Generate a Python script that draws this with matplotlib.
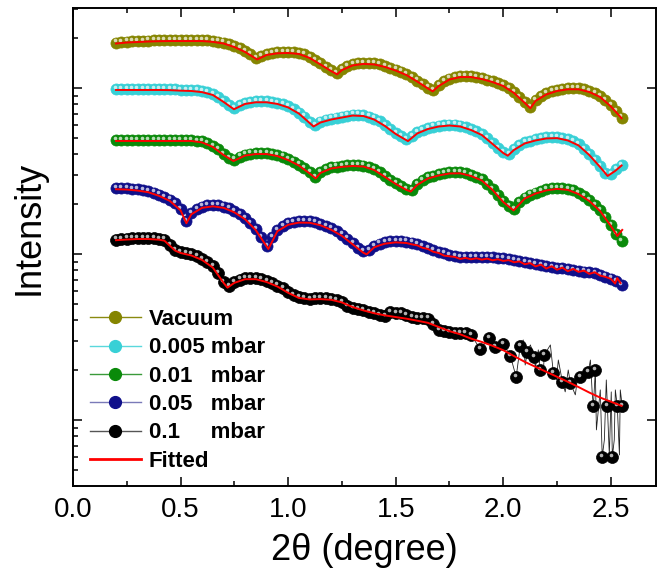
import numpy as np
import matplotlib
matplotlib.use("Agg")
import matplotlib.pyplot as plt
import matplotlib.transforms as mtransforms
from matplotlib.lines import Line2D
from matplotlib.ticker import LogLocator, NullFormatter, MultipleLocator

plt.rcParams['font.family'] = ['Liberation Sans', 'DejaVu Sans']

# scan angles (2theta, degree), 0.025 step
two_theta = np.round(np.arange(0.200, 2.5501, 0.025), 3)

# measured curves, log10(intensity) with vertical offsets between samples
log_vacuum = [
    2.274, 2.277, 2.280, 2.282, 2.283, 2.285, 2.286, 2.287, 2.288, 2.288,
    2.289, 2.289, 2.289, 2.289, 2.289, 2.289, 2.289, 2.287, 2.284, 2.280,
    2.274, 2.265, 2.253, 2.241, 2.223, 2.202, 2.181, 2.193, 2.205, 2.211,
    2.215, 2.217, 2.217, 2.215, 2.211, 2.202, 2.187, 2.169, 2.148, 2.127,
    2.108, 2.090, 2.114, 2.133, 2.142, 2.148, 2.151, 2.151, 2.148, 2.142,
    2.133, 2.123, 2.111, 2.099, 2.084, 2.066, 2.045, 2.024, 2.003, 1.988,
    2.018, 2.042, 2.057, 2.066, 2.072, 2.073, 2.072, 2.066, 2.060, 2.051,
    2.042, 2.030, 2.018, 2.000, 1.976, 1.946, 1.916, 1.886, 1.928, 1.952,
    1.967, 1.979, 1.988, 1.994, 1.998, 2.000, 1.998, 1.991, 1.982, 1.970,
    1.952, 1.928, 1.895, 1.861, 1.822]

log_0005 = [
    1.994, 1.994, 1.994, 1.994, 1.994, 1.994, 1.994, 1.994, 1.994, 1.994,
    1.993, 1.992, 1.990, 1.989, 1.988, 1.985, 1.981, 1.974, 1.964, 1.946,
    1.922, 1.898, 1.880, 1.898, 1.910, 1.916, 1.920, 1.922, 1.920, 1.916,
    1.910, 1.901, 1.889, 1.873, 1.852, 1.828, 1.795, 1.777, 1.798, 1.810,
    1.816, 1.822, 1.828, 1.834, 1.840, 1.840, 1.837, 1.828, 1.816, 1.801,
    1.777, 1.753, 1.729, 1.711, 1.690, 1.711, 1.732, 1.747, 1.759, 1.768,
    1.774, 1.777, 1.780, 1.780, 1.774, 1.765, 1.753, 1.738, 1.723, 1.699,
    1.669, 1.639, 1.614, 1.602, 1.633, 1.657, 1.672, 1.681, 1.690, 1.696,
    1.702, 1.705, 1.704, 1.699, 1.690, 1.678, 1.660, 1.633, 1.602, 1.566,
    1.530, 1.488, 1.482, 1.509, 1.536]

log_001 = [
    1.684, 1.687, 1.687, 1.687, 1.687, 1.687, 1.687, 1.687, 1.687, 1.687,
    1.687, 1.687, 1.687, 1.687, 1.687, 1.683, 1.678, 1.669, 1.651, 1.630,
    1.602, 1.578, 1.569, 1.587, 1.599, 1.605, 1.608, 1.610, 1.608, 1.604,
    1.596, 1.587, 1.572, 1.557, 1.539, 1.518, 1.491, 1.464, 1.494, 1.512,
    1.521, 1.527, 1.531, 1.534, 1.536, 1.536, 1.533, 1.524, 1.512, 1.494,
    1.470, 1.446, 1.428, 1.410, 1.392, 1.386, 1.422, 1.446, 1.461, 1.470,
    1.479, 1.485, 1.491, 1.494, 1.492, 1.485, 1.476, 1.464, 1.449, 1.422,
    1.392, 1.355, 1.319, 1.289, 1.271, 1.313, 1.340, 1.358, 1.370, 1.380,
    1.389, 1.395, 1.398, 1.398, 1.392, 1.383, 1.367, 1.349, 1.325, 1.295,
    1.265, 1.223, 1.175, 1.120, 1.078]

log_005 = [
    1.398, 1.398, 1.396, 1.393, 1.390, 1.386, 1.380, 1.370, 1.358, 1.343,
    1.328, 1.307, 1.271, 1.199, 1.247, 1.271, 1.286, 1.293, 1.295, 1.293,
    1.286, 1.274, 1.259, 1.241, 1.217, 1.187, 1.151, 1.102, 1.048, 1.102,
    1.145, 1.169, 1.184, 1.193, 1.197, 1.199, 1.196, 1.190, 1.181, 1.169,
    1.154, 1.136, 1.117, 1.093, 1.066, 1.036, 1.015, 1.024, 1.048, 1.063,
    1.072, 1.077, 1.078, 1.078, 1.075, 1.069, 1.060, 1.048, 1.036, 1.024,
    1.012, 1.003, 0.994, 0.988, 0.984, 0.982, 0.982, 0.982, 0.982, 0.982,
    0.980, 0.978, 0.974, 0.970, 0.964, 0.957, 0.949, 0.943, 0.937, 0.931,
    0.926, 0.922, 0.917, 0.913, 0.908, 0.904, 0.899, 0.894, 0.889, 0.883,
    0.873, 0.864, 0.852, 0.837, 0.813]

# 0.1 mbar: regular part of the scan (0.200 - 1.850)
log_01 = [
    1.087, 1.090, 1.093, 1.095, 1.096, 1.096, 1.096, 1.095, 1.092, 1.087,
    1.054, 1.024, 1.012, 1.006, 0.997, 0.985, 0.970, 0.952, 0.925, 0.886,
    0.831, 0.807, 0.831, 0.846, 0.854, 0.855, 0.854, 0.848, 0.837, 0.825,
    0.810, 0.792, 0.771, 0.750, 0.738, 0.732, 0.729, 0.732, 0.735, 0.733,
    0.729, 0.723, 0.711, 0.687, 0.675, 0.666, 0.660, 0.651, 0.642, 0.630,
    0.627, 0.648, 0.645, 0.642, 0.630, 0.620, 0.614, 0.614, 0.611, 0.578,
    0.542, 0.533, 0.527, 0.524, 0.524, 0.521, 0.512]

# 0.1 mbar: noisy high-angle points (marked)
tail_01_x = [1.893, 1.935, 1.963, 2.000, 2.033, 2.060, 2.079, 2.112, 2.144, 2.172,
             2.191, 2.233, 2.275, 2.312, 2.358, 2.395, 2.419, 2.428, 2.460, 2.484,
             2.507, 2.530, 2.553]
tail_01_log = [0.428, 0.494, 0.440, 0.458, 0.386, 0.259, 0.446, 0.410, 0.380, 0.301,
               0.392, 0.283, 0.229, 0.223, 0.259, 0.289, 0.084, 0.301, -0.223, 0.084,
               -0.223, 0.084, 0.084]

# 0.1 mbar: raw trace points between the marked ones
raw_01_x = [2.093, 2.102, 2.126, 2.149, 2.163, 2.186, 2.219, 2.247, 2.256, 2.288,
            2.302, 2.335, 2.349, 2.372, 2.405, 2.414, 2.433, 2.451, 2.470, 2.479,
            2.493, 2.502, 2.516, 2.521, 2.540, 2.544]
raw_01_log = [0.482, 0.331, 0.452, 0.313, 0.422, 0.289, 0.452, 0.241, 0.361, 0.169,
              0.301, 0.151, 0.289, 0.241, 0.361, 0.151, -0.060, 0.181, -0.120, 0.241,
              -0.211, 0.169, -0.120, 0.181, -0.211, 0.181]

# fitted curves
fit_vac_x = [0.20, 0.25, 0.30, 0.35, 0.40, 0.45, 0.50, 0.55, 0.60, 0.65,
             0.70, 0.75, 0.80, 0.856, 0.90, 0.95, 1.00, 1.05, 1.10, 1.15,
             1.20, 1.228, 1.25, 1.30, 1.35, 1.40, 1.45, 1.50, 1.55, 1.60,
             1.65, 1.672, 1.70, 1.75, 1.80, 1.85, 1.90, 1.95, 2.00, 2.05,
             2.10, 2.126, 2.15, 2.20, 2.25, 2.30, 2.35, 2.40, 2.45, 2.50, 2.55]
fit_vac = [2.268, 2.274, 2.277, 2.280, 2.282, 2.283, 2.283, 2.283, 2.283, 2.278,
           2.268, 2.247, 2.217, 2.172, 2.199, 2.209, 2.211, 2.205, 2.181, 2.142,
           2.102, 2.082, 2.108, 2.136, 2.145, 2.142, 2.127, 2.105, 2.078, 2.039,
           1.997, 1.980, 2.012, 2.051, 2.066, 2.066, 2.054, 2.036, 2.012, 1.970,
           1.910, 1.878, 1.922, 1.961, 1.982, 1.992, 1.992, 1.976, 1.946, 1.889, 1.818]

fit_0005_x = [0.20, 0.25, 0.30, 0.35, 0.40, 0.45, 0.50, 0.55, 0.60, 0.65,
              0.70, 0.748, 0.80, 0.85, 0.90, 0.95, 1.00, 1.05, 1.10, 1.118,
              1.15, 1.20, 1.25, 1.30, 1.35, 1.40, 1.45, 1.50, 1.557, 1.60,
              1.65, 1.70, 1.75, 1.80, 1.85, 1.90, 1.95, 2.00, 2.021, 2.05,
              2.10, 2.15, 2.20, 2.25, 2.30, 2.35, 2.40, 2.45, 2.485, 2.52, 2.55]
fit_0005 = [1.988, 1.988, 1.988, 1.988, 1.988, 1.987, 1.984, 1.982, 1.975, 1.958,
            1.916, 1.872, 1.904, 1.914, 1.914, 1.904, 1.883, 1.846, 1.789, 1.768,
            1.792, 1.810, 1.822, 1.834, 1.831, 1.810, 1.771, 1.723, 1.680, 1.726,
            1.753, 1.768, 1.774, 1.768, 1.747, 1.717, 1.663, 1.608, 1.592, 1.627,
            1.666, 1.684, 1.696, 1.698, 1.684, 1.654, 1.596, 1.524, 1.470, 1.500, 1.533]

fit_001_x = [0.20, 0.25, 0.30, 0.35, 0.40, 0.45, 0.50, 0.55, 0.60, 0.65,
             0.70, 0.746, 0.80, 0.85, 0.90, 0.95, 1.00, 1.05, 1.10, 1.128,
             1.15, 1.20, 1.25, 1.30, 1.35, 1.40, 1.45, 1.50, 1.55, 1.57,
             1.60, 1.65, 1.70, 1.75, 1.80, 1.85, 1.90, 1.95, 2.00, 2.048,
             2.10, 2.15, 2.20, 2.25, 2.30, 2.35, 2.40, 2.45, 2.50, 2.53, 2.553]
fit_001 = [1.681, 1.681, 1.681, 1.681, 1.681, 1.681, 1.681, 1.681, 1.672, 1.645,
           1.596, 1.560, 1.593, 1.602, 1.602, 1.590, 1.566, 1.533, 1.485, 1.455,
           1.488, 1.515, 1.525, 1.530, 1.527, 1.506, 1.464, 1.422, 1.386, 1.376,
           1.416, 1.455, 1.473, 1.485, 1.486, 1.470, 1.443, 1.386, 1.313, 1.262,
           1.334, 1.364, 1.383, 1.392, 1.386, 1.361, 1.319, 1.259, 1.169, 1.108, 1.145]

fit_005_x = [0.20, 0.25, 0.30, 0.35, 0.40, 0.45, 0.50, 0.527, 0.55, 0.60,
             0.65, 0.70, 0.75, 0.80, 0.85, 0.908, 0.95, 1.00, 1.05, 1.10,
             1.15, 1.20, 1.25, 1.30, 1.35, 1.365, 1.40, 1.425, 1.45, 1.475,
             1.50, 1.525, 1.55, 1.575, 1.60, 1.625, 1.65, 1.675, 1.70, 1.725,
             1.75, 1.775, 1.80, 1.825, 1.85, 1.875, 1.90, 1.925, 1.95, 1.975,
             2.00, 2.025, 2.05, 2.075, 2.10, 2.125, 2.15, 2.175, 2.20, 2.225,
             2.25, 2.275, 2.30, 2.325, 2.35, 2.375, 2.40, 2.425, 2.45, 2.475,
             2.50, 2.52, 2.53, 2.545]
fit_005 = [1.390, 1.388, 1.382, 1.372, 1.350, 1.320, 1.263, 1.185, 1.239, 1.278,
           1.287, 1.278, 1.251, 1.209, 1.143, 1.030, 1.137, 1.176, 1.189, 1.188,
           1.173, 1.146, 1.109, 1.058, 1.007, 0.998, 1.040, 1.052, 1.062, 1.066,
           1.070, 1.068, 1.066, 1.058, 1.052, 1.037, 1.030, 1.013, 1.006, 0.990,
           0.986, 0.982, 0.970, 0.976, 0.968, 0.974, 0.966, 0.972, 0.962, 0.968,
           0.958, 0.963, 0.950, 0.955, 0.938, 0.945, 0.925, 0.936, 0.912, 0.926,
           0.905, 0.918, 0.896, 0.910, 0.892, 0.900, 0.880, 0.890, 0.870, 0.862,
           0.850, 0.822, 0.855, 0.825]

fit_01_x = [0.20, 0.25, 0.30, 0.35, 0.40, 0.425, 0.45, 0.475, 0.50, 0.55,
            0.60, 0.65, 0.70, 0.718, 0.75, 0.80, 0.85, 0.90, 0.95, 1.00,
            1.05, 1.10, 1.15, 1.20, 1.25, 1.30, 1.35, 1.40, 1.45, 1.50,
            1.55, 1.60, 1.65, 1.70, 1.75, 1.80, 1.85, 1.90, 1.95, 2.00,
            2.05, 2.10, 2.15, 2.20, 2.25, 2.30, 2.35, 2.40, 2.45, 2.50, 2.55]
fit_01 = [1.083, 1.087, 1.090, 1.090, 1.086, 1.080, 1.050, 1.020, 1.006, 0.991,
          0.964, 0.918, 0.826, 0.797, 0.826, 0.848, 0.848, 0.831, 0.804, 0.766,
          0.735, 0.726, 0.728, 0.724, 0.708, 0.680, 0.660, 0.643, 0.630, 0.620,
          0.610, 0.598, 0.585, 0.560, 0.535, 0.516, 0.490, 0.470, 0.447, 0.420,
          0.385, 0.350, 0.320, 0.290, 0.260, 0.230, 0.198, 0.165, 0.135, 0.110, 0.085]

labels = ["Vacuum", "0.005 mbar", "0.01   mbar", "0.05   mbar", "0.1     mbar"]
marker_colors = ["#858500", "#38d0d6", "#0a8a0a", "#10108a", "#000000"]
line_colors = ["#8a8a10", "#5ad8dc", "#3a9a3a", "#7a7ab8", "#555555"]
fit_color = "#ff0000"

fig = plt.figure(figsize=(6.57, 5.71), dpi=100)
ax = fig.add_axes([73 / 657, 85 / 571, 583 / 657, 478 / 571])

hl = ax.transData + mtransforms.ScaledTranslation(-0.8 / 72, 1.5 / 72, fig.dpi_scale_trans)

theta_01 = two_theta[:len(log_01)]
series = [
    (two_theta, log_vacuum),
    (two_theta, log_0005),
    (two_theta, log_001),
    (two_theta, log_005),
    (np.concatenate([theta_01, tail_01_x]), np.concatenate([log_01, tail_01_log])),
]

for i, (xs, ys) in enumerate(series):
    xs = np.asarray(xs, dtype=float)
    yv = 10 ** np.asarray(ys, dtype=float)
    ms = 8.6 if i == 4 else 8.0
    if i == 4:
        lx = np.concatenate([xs, raw_01_x])
        ly = np.concatenate([np.asarray(ys, float), raw_01_log])
        order = np.argsort(lx)
        ax.plot(lx[order], 10 ** ly[order], color="#222222", lw=0.6, zorder=2)
    else:
        ax.plot(xs, yv, color=line_colors[i], lw=0.8, zorder=2)
    ax.plot(xs, yv, ls="none", marker="o", ms=ms, mfc=marker_colors[i],
            mec=marker_colors[i], mew=0.5, zorder=3)
    ax.plot(xs, yv, ls="none", marker="o", ms=2.6, mfc="white", mec="none",
            alpha=0.7, transform=hl, zorder=4)

fits = [(fit_vac_x, fit_vac), (fit_0005_x, fit_0005), (fit_001_x, fit_001),
        (fit_005_x, fit_005), (fit_01_x, fit_01)]
for fx, fy in fits:
    ax.plot(fx, 10 ** np.asarray(fy), color=fit_color, lw=1.4, zorder=5)

ax.set_yscale("log")
ax.set_xlim(0, 2.71)
ax.set_ylim(10 ** -0.398, 10 ** 2.482)

ax.xaxis.set_major_locator(MultipleLocator(0.5))
ax.xaxis.set_minor_locator(MultipleLocator(0.25))
ax.yaxis.set_major_locator(LogLocator(base=10))
ax.yaxis.set_minor_locator(LogLocator(base=10, subs=np.arange(2, 10)))
ax.yaxis.set_major_formatter(NullFormatter())
ax.yaxis.set_minor_formatter(NullFormatter())
ax.xaxis.set_major_formatter(plt.FuncFormatter(lambda v, p: f"{v:.1f}"))

ax.tick_params(which="both", direction="in", top=True, right=True, width=1.1)
ax.tick_params(which="major", length=6.5)
ax.tick_params(which="minor", length=3.6)
ax.tick_params(axis="y", which="minor", right=False)
ax.tick_params(axis="x", labelsize=20, pad=8)
for s in ax.spines.values():
    s.set_linewidth(1.4)

ax.set_xlabel("2θ (degree)", fontsize=26, labelpad=7)
ax.set_ylabel("Intensity", fontsize=26)
ax.yaxis.set_label_coords(-0.045, 0.54)

handles = []
for i in range(5):
    handles.append(Line2D([], [], color=line_colors[i], lw=1.0, marker="o", ms=8.5,
                          mfc=marker_colors[i], mec=marker_colors[i]))
handles.append(Line2D([], [], color=fit_color, lw=2.0))
ax.legend(handles, labels + ["Fitted"], loc="lower left", bbox_to_anchor=(0.029, 0.030),
          frameon=False, prop={"weight": "bold", "size": 16}, handlelength=2.3,
          handletextpad=0.35, labelspacing=0.33, borderpad=0, borderaxespad=0)

fig.savefig("out.png", dpi=100)
